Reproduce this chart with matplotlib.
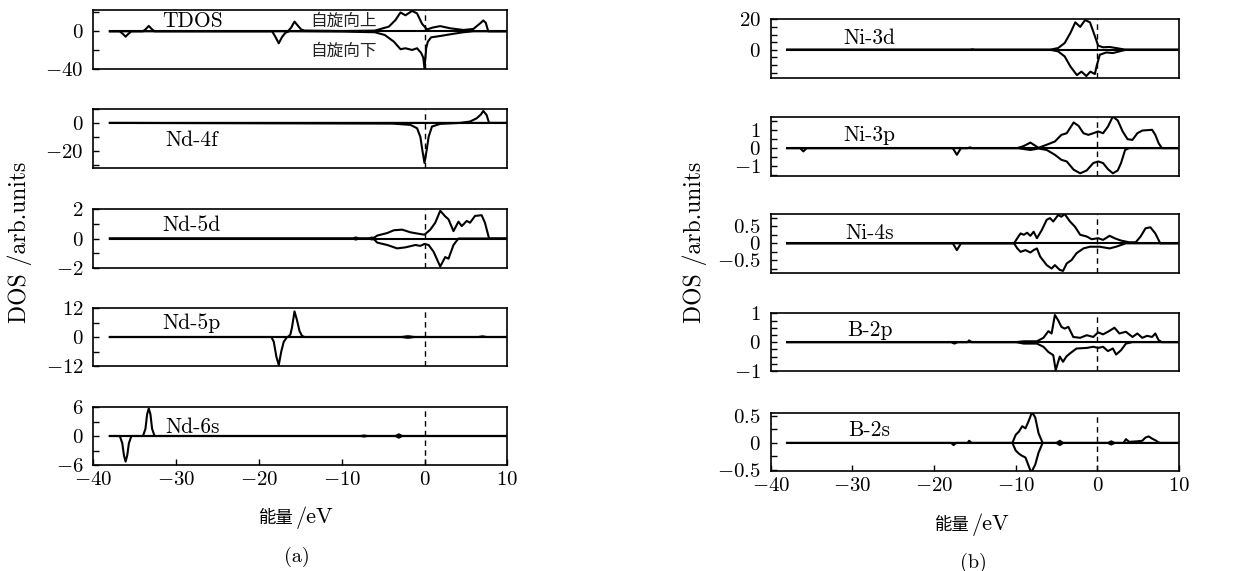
import matplotlib
matplotlib.use("Agg")
import matplotlib.pyplot as plt

plt.rcParams['mathtext.fontset'] = 'cm'
plt.rcParams['font.family'] = ['cmr10', 'Noto Sans CJK SC', 'DejaVu Sans']
plt.rcParams['axes.unicode_minus'] = False

W, H = 1236, 571

# ---------------- data (energy in eV, DOS in arb. units) ----------------
# Left: TDOS
tdos_up_e = [-38, -34.0, -33.7, -33.3, -32.9, -32.6, -16.5, -16.1, -15.7, -15.3, -14.9, -14.5, -10, -6, -4.3, -3.5, -2.9, -2.3, -1.5, -0.9, -0.3, 0.3, 1.0, 1.9, 3.1, 4.7, 5.9, 6.8, 7.1, 7.4, 7.7, 9.8]
tdos_up_v = [0, 0, 2, 5.7, 2, 0, 0, 4, 10.3, 6, 2, 0.8, 0.3, 0.7, 5, 12, 20, 17, 21.6, 19, 8, 2, 4, 5.5, 3.2, 1.4, 2.5, 9, 11.5, 9, 0, 0]
tdos_dn_e = [-38, -36.8, -36.4, -36.1, -35.8, -35.4, -18.4, -18.0, -17.6, -17.2, -16.8, -16.3, -10, -6, -4.8, -3.7, -2.9, -2.3, -1.5, -0.9, -0.4, -0.15, 0.0, 0.2, 0.4, 0.8, 1.9, 3.1, 4.7, 5.9, 9.8]
tdos_dn_v = [0, 0, -3, -5.7, -3, 0, 0, -6, -12.7, -6, -1.5, 0, -0.3, -1, -3.9, -11, -19, -18, -19.8, -18, -23, -28, -39.5, -18, -11, -6.4, -5, -3.2, -1, 0, 0]

# Nd-4f
nd4f_up_e = [-38, 4.3, 5.5, 6.3, 6.8, 7.1, 7.5, 7.8, 9.8]
nd4f_up_v = [0, 0, 1, 3.3, 6, 8.6, 5.7, 0, 0]
nd4f_dn_e = [-38, -3.9, -1.7, -0.9, -0.5, -0.25, 0, 0.25, 0.5, 0.9, 1.9, 4.3, 9.8]
nd4f_dn_v = [0, -0.5, -1.4, -3.8, -10, -20, -28.8, -20, -10, -2.6, -0.7, 0, 0]

# Nd-5d
nd5d_up_e = [-38, -10, -8.7, -8.3, -7.9, -6.7, -6.4, -6.1, -5.7, -4.5, -3.7, -2.7, -1.7, -0.5, 0, 0.7, 1.3, 1.9, 2.5, 2.9, 3.5, 4.1, 4.5, 5.1, 5.5, 6.1, 6.9, 7.3, 7.8, 9.8]
nd5d_up_v = [0, 0, 0, 0.07, 0, 0, 0.06, 0.05, 0.2, 0.37, 0.56, 0.6, 0.42, 0.3, 0.26, 0.6, 1.07, 1.88, 1.5, 1.3, 0.5, 1.14, 0.84, 1.19, 1.07, 1.53, 1.58, 1.07, 0, 0]
nd5d_dn_e = [-38, -10, -8.7, -8.3, -7.9, -6.7, -6.4, -6.1, -5.7, -4.5, -3.3, -2.3, -1.1, -0.5, 0, 0.5, 1.1, 1.9, 2.5, 2.9, 3.5, 4.1, 9.8]
nd5d_dn_v = [0, 0, 0, -0.07, 0, 0, -0.06, -0.05, -0.28, -0.44, -0.67, -0.6, -0.44, -0.5, -0.37, -0.44, -0.9, -1.9, -1.26, -1.37, -0.44, 0, 0]

# Nd-5p
nd5p_up_e = [-38, -16.5, -16.2, -16.0, -15.7, -15.4, -15.1, -14.8, -14.5, -2.8, -2.0, -1.2, 6.5, 7.0, 7.5, 9.8]
nd5p_up_v = [0, 0, 1, 4, 10.6, 7, 2.5, 0.5, 0, 0, 0.35, 0, 0, 0.3, 0, 0]
nd5p_dn_e = [-38, -18.5, -18.2, -17.9, -17.6, -17.3, -17.0, -16.6, -2.8, -2.0, -1.2, 9.8]
nd5p_dn_v = [0, 0, -2, -8, -11.6, -6, -2, 0, 0, -0.35, 0, 0]

# Nd-6s
nd6s_up_e = [-38, -34.0, -33.7, -33.5, -33.3, -33.1, -32.9, -32.6, -7.7, -7.3, -6.9, -3.5, -3.1, -2.7, 9.8]
nd6s_up_v = [0, 0, 1.5, 4.5, 5.7, 4.5, 1.5, 0, 0, 0.12, 0, 0, 0.35, 0, 0]
nd6s_dn_e = [-38, -36.8, -36.5, -36.3, -36.1, -35.9, -35.7, -35.4, -7.7, -7.3, -6.9, -3.5, -3.1, -2.7, 9.8]
nd6s_dn_v = [0, 0, -1.5, -4, -5.3, -4, -1.5, 0, 0, -0.12, 0, 0, -0.35, 0, 0]

# Right: Ni-3d
ni3d_up_e = [-38, -15.6, -15.3, -15.0, -5.8, -4.8, -4.0, -3.3, -2.7, -2.1, -1.5, -0.9, -0.3, 0.1, 0.7, 1.5, 2.3, 3.5, 9.8]
ni3d_up_v = [0, 0, 0.3, 0, 0, 1.1, 4.4, 11, 18, 15, 19.5, 18, 8.9, 2.7, 1.6, 1.8, 1.1, 0, 0]
ni3d_dn_e = [-38, -5.8, -4.8, -4.0, -3.3, -2.5, -1.95, -1.35, -0.85, -0.3, -0.1, 0.3, 1.1, 1.9, 2.7, 3.5, 9.8]
ni3d_dn_v = [0, 0, -1.1, -4.4, -11, -16.7, -14.4, -17.3, -14.4, -16, -11, -3.3, -1.8, -2.2, -1.1, 0, 0]

# Ni-3p
ni3p_up_e = [-38, -15.9, -15.6, -15.3, -9.8, -9.0, -8.2, -7.2, -6.2, -5.2, -4.4, -3.75, -2.9, -2.3, -1.7, -1.1, -0.5, 0.1, 0.7, 1.3, 1.9, 2.5, 3.1, 3.7, 4.3, 4.9, 5.5, 6.1, 6.7, 7.1, 7.5, 7.9, 9.8]
ni3p_up_v = [0, 0, 0.04, 0, 0, 0.12, 0.31, 0.02, 0.19, 0.37, 0.74, 0.83, 1.43, 1.24, 0.83, 0.74, 0.83, 0.93, 0.83, 1.2, 1.76, 1.54, 0.93, 0.5, 0.46, 0.83, 0.98, 1.0, 1.02, 0.74, 0.28, 0, 0]
ni3p_dn_e = [-38, -36.4, -36.0, -35.6, -17.7, -17.2, -16.7, -9.8, -9.0, -8.2, -7.2, -6.2, -5.2, -4.4, -3.75, -2.9, -2.1, -1.3, -0.5, 0.1, 0.7, 1.3, 1.9, 2.5, 2.9, 3.4, 3.9, 9.8]
ni3p_dn_v = [0, 0, -0.18, 0, 0, -0.37, 0, 0, -0.05, -0.1, -0.02, -0.1, -0.37, -0.65, -0.74, -1.2, -1.4, -1.24, -0.83, -0.74, -0.83, -1.17, -1.4, -1.24, -0.83, -0.1, 0, 0]

# Ni-4s
ni4s_up_e = [-38, -10.2, -9.8, -9.4, -9.0, -8.6, -8.2, -7.8, -7.4, -6.8, -6.2, -5.8, -5.4, -4.8, -4.4, -4.0, -3.35, -2.75, -2.1, -1.3, -0.7, 0.1, 0.7, 1.5, 2.1, 2.9, 3.9, 4.7, 5.3, 5.9, 6.5, 7.1, 7.7, 9.8]
ni4s_up_v = [0, 0, 0.15, 0.29, 0.25, 0.31, 0.22, 0.34, 0.15, 0.39, 0.69, 0.74, 0.64, 0.83, 0.78, 0.86, 0.64, 0.49, 0.25, 0.2, 0.12, 0.15, 0.1, 0.22, 0.15, 0.08, 0.03, 0.03, 0.2, 0.44, 0.47, 0.29, 0, 0]
ni4s_dn_e = [-38, -17.7, -17.2, -16.7, -10.2, -9.8, -9.4, -8.8, -8.2, -7.8, -7.4, -7.0, -6.2, -5.6, -5.2, -4.6, -4.2, -3.75, -3.15, -2.55, -1.7, -0.9, 0.3, 1.5, 2.3, 3.5, 9.8]
ni4s_dn_v = [0, 0, -0.2, 0, 0, -0.15, -0.25, -0.2, -0.27, -0.2, -0.15, -0.39, -0.64, -0.74, -0.64, -0.78, -0.81, -0.59, -0.49, -0.29, -0.15, -0.1, -0.1, -0.15, -0.1, 0, 0]

# B-2p
b2p_up_e = [-38, -15.9, -15.7, -15.4, -10, -9, -7.4, -6.6, -6.0, -5.6, -5.2, -4.8, -4.4, -4.0, -3.55, -2.95, -2.1, -1.3, -0.5, 0.1, 0.7, 1.3, 2.1, 2.7, 3.5, 4.3, 4.9, 5.5, 6.1, 6.7, 7.1, 7.5, 7.9, 9.8]
b2p_up_v = [0, 0, 0.06, 0, 0, 0.03, 0.03, 0.15, 0.38, 0.3, 0.94, 0.76, 0.53, 0.47, 0.53, 0.18, 0.15, 0.24, 0.18, 0.34, 0.27, 0.36, 0.5, 0.3, 0.36, 0.18, 0.3, 0.15, 0.22, 0.18, 0.3, 0.07, 0, 0]
b2p_dn_e = [-38, -17.9, -17.5, -17.1, -10, -9, -7.4, -6.6, -6.0, -5.4, -5.1, -4.6, -4.2, -3.8, -3.35, -2.55, -1.3, -0.5, 0.1, 0.7, 1.3, 1.9, 2.3, 2.9, 3.5, 4.3, 9.8]
b2p_dn_v = [0, 0, -0.05, 0, 0, -0.05, -0.05, -0.16, -0.34, -0.45, -0.97, -0.5, -0.68, -0.5, -0.39, -0.22, -0.2, -0.16, -0.2, -0.16, -0.31, -0.22, -0.43, -0.28, -0.05, 0, 0]

# B-2s
b2s_up_e = [-38, -15.9, -15.7, -15.4, -10.4, -10.0, -9.6, -9.2, -8.8, -8.4, -8.0, -7.6, -7.2, -6.7, -5.0, -4.6, -4.2, 1.3, 1.7, 2.1, 3.2, 3.5, 3.9, 4.9, 5.5, 5.9, 6.3, 6.7, 7.1, 7.5, 7.7, 9.8]
b2s_up_v = [0, 0, 0.04, 0, 0, 0.15, 0.21, 0.31, 0.27, 0.41, 0.57, 0.47, 0.18, 0, 0, 0.04, 0, 0, 0.03, 0, 0, 0.07, 0.02, 0.03, 0.04, 0.1, 0.12, 0.08, 0.05, 0.01, 0, 0]
b2s_dn_e = [-38, -17.9, -17.6, -17.3, -10.4, -10.0, -9.6, -9.2, -8.8, -8.4, -8.1, -7.6, -7.2, -6.7, -5.0, -4.6, -4.2, 1.3, 1.7, 2.1, 9.8]
b2s_dn_v = [0, 0, -0.04, 0, 0, -0.14, -0.2, -0.24, -0.27, -0.43, -0.55, -0.4, -0.18, 0, 0, -0.04, 0, 0, -0.03, 0, 0]

# labels / ticks
left_names = ['TDOS', 'Nd-4f', 'Nd-5d', 'Nd-5p', 'Nd-6s']
right_names = ['Ni-3d', 'Ni-3p', 'Ni-4s', 'B-2p', 'B-2s']
left_ylims = [(-40, 22.6), (-32.4, 10), (-2, 2), (-12, 12), (-6, 6)]
right_ylims = [(-18.4, 20), (-1.55, 1.75), (-0.88, 0.86), (-1, 1), (-0.52, 0.56)]
left_major = [[0, -40], [0, -20], [2, 0, -2], [12, 0, -12], [6, 0, -6]]
left_major_lbl = [['0', '-40'], ['0', '-20'], ['2', '0', '-2'], ['12', '0', '-12'], ['6', '0', '-6']]
left_minor = [[20, -20], [10, -10, -30], [1, -1], [6, -6], [3, -3]]
right_major = [[20, 0], [1, 0, -1], [0.5, 0, -0.5], [1, 0, -1], [0.5, 0, -0.5]]
right_major_lbl = [['20', '0'], ['1', '0', '-1'], ['0.5', '0', '-0.5'], ['1', '0', '-1'], ['0.5', '0', '-0.5']]
right_minor = [[15, 10, 5, -5, -10, -15], [1.5, 0.5, -0.5, -1.5], [0.75, 0.25, -0.25, -0.75],
               [0.75, 0.5, 0.25, -0.25, -0.5, -0.75], [0.25, -0.25]]
x_ticks = [-40, -30, -20, -10, 0, 10]
x_tick_lbl = ['-40', '-30', '-20', '-10', '0', '10']

left_data = [(tdos_up_e, tdos_up_v, tdos_dn_e, tdos_dn_v),
             (nd4f_up_e, nd4f_up_v, nd4f_dn_e, nd4f_dn_v),
             (nd5d_up_e, nd5d_up_v, nd5d_dn_e, nd5d_dn_v),
             (nd5p_up_e, nd5p_up_v, nd5p_dn_e, nd5p_dn_v),
             (nd6s_up_e, nd6s_up_v, nd6s_dn_e, nd6s_dn_v)]
right_data = [(ni3d_up_e, ni3d_up_v, ni3d_dn_e, ni3d_dn_v),
              (ni3p_up_e, ni3p_up_v, ni3p_dn_e, ni3p_dn_v),
              (ni4s_up_e, ni4s_up_v, ni4s_dn_e, ni4s_dn_v),
              (b2p_up_e, b2p_up_v, b2p_dn_e, b2p_dn_v),
              (b2s_up_e, b2s_up_v, b2s_dn_e, b2s_dn_v)]

# ---------------- layout (pixels) ----------------
left_x = (93.3, 507.3)
right_x = (770.7, 1179.0)
left_y = [(10, 69), (109, 168), (209, 268), (308, 366), (407, 465)]
right_y = [(19.3, 77.7), (116.7, 176), (214, 273.3), (313.3, 371), (412.7, 471)]
left_lbl_pos = [(162, 21), (165, 140), (162, 225), (162, 323), (165, 427)]
right_lbl_pos = [(843, 38), (843, 135), (845, 233), (847, 330), (848, 430)]

TICK_FS = 15
LBL_FS = 15.5
LW = 1.5

fig = plt.figure(figsize=(W / 100, H / 100), dpi=100)

def mk_ax(xr, yr):
    return fig.add_axes([xr[0] / W, 1 - yr[1] / H, (xr[1] - xr[0]) / W, (yr[1] - yr[0]) / H])

def draw_col(xr, yrs, data, ylims, majors, major_lbls, minors, names, lblpos):
    for i in range(5):
        ax = mk_ax(xr, yrs[i])
        ue, uv, de, dv = data[i]
        ax.plot([-38, 9.8], [0, 0], color='black', lw=LW)
        ax.plot(ue, uv, color='black', lw=LW)
        ax.plot(de, dv, color='black', lw=LW)
        ax.axvline(0, color='black', lw=1.0, ls=(0, (4, 3)))
        ax.set_xlim(-40, 10)
        ax.set_ylim(*ylims[i])
        ax.set_yticks(majors[i])
        ax.set_yticklabels(['$' + s + '$' for s in major_lbls[i]], fontsize=TICK_FS)
        ax.set_yticks(minors[i], minor=True)
        ax.tick_params(axis='y', which='both', direction='in', length=4, width=1, pad=7)
        if i == 4:
            ax.set_xticks(x_ticks)
            ax.set_xticklabels(['$' + s + '$' for s in x_tick_lbl], fontsize=TICK_FS)
            ax.tick_params(axis='x', which='both', direction='in', length=4, width=1, pad=4.5)
        else:
            ax.set_xticks([])
        for s in ax.spines.values():
            s.set_linewidth(1.2)
        fig.text(lblpos[i][0] / W, 1 - lblpos[i][1] / H, names[i], fontsize=LBL_FS,
                 family=['cmr10', 'Noto Sans CJK SC'], ha='left', va='center')

draw_col(left_x, left_y, left_data, left_ylims, left_major, left_major_lbl, left_minor, left_names, left_lbl_pos)
draw_col(right_x, right_y, right_data, right_ylims, right_major, right_major_lbl, right_minor, right_names, right_lbl_pos)

cjk = ['Noto Sans CJK SC', 'cmr10']
fig.text(310 / W, 1 - 21 / H, '自旋向上', fontsize=12, family=cjk, ha='left', va='center', color='#222222')
fig.text(310 / W, 1 - 51 / H, '自旋向下', fontsize=12, family=cjk, ha='left', va='center', color='#222222')

for xc in (20, 695):
    fig.text(xc / W, 1 - 242 / H, 'DOS /arb.units', fontsize=17, family=['cmr10', 'Noto Sans CJK SC'],
             rotation=90, ha='center', va='center')

# x-axis titles: Chinese part + latin part
for (xa, ya) in ((294, 518), (970, 525)):
    fig.text(xa / W, 1 - ya / H, '能量', fontsize=12.5, family=cjk, ha='right', va='center')
    fig.text((xa + 2) / W, 1 - ya / H, '/eV', fontsize=16, family=['cmr10', 'Noto Sans CJK SC'], ha='left', va='center')

fig.text(297 / W, 1 - 557 / H, '(a)', fontsize=14.5, family='cmr10', ha='center', va='center')
fig.text(973 / W, 1 - 563 / H, '(b)', fontsize=14.5, family='cmr10', ha='center', va='center')

fig.savefig('out.png', dpi=100)
